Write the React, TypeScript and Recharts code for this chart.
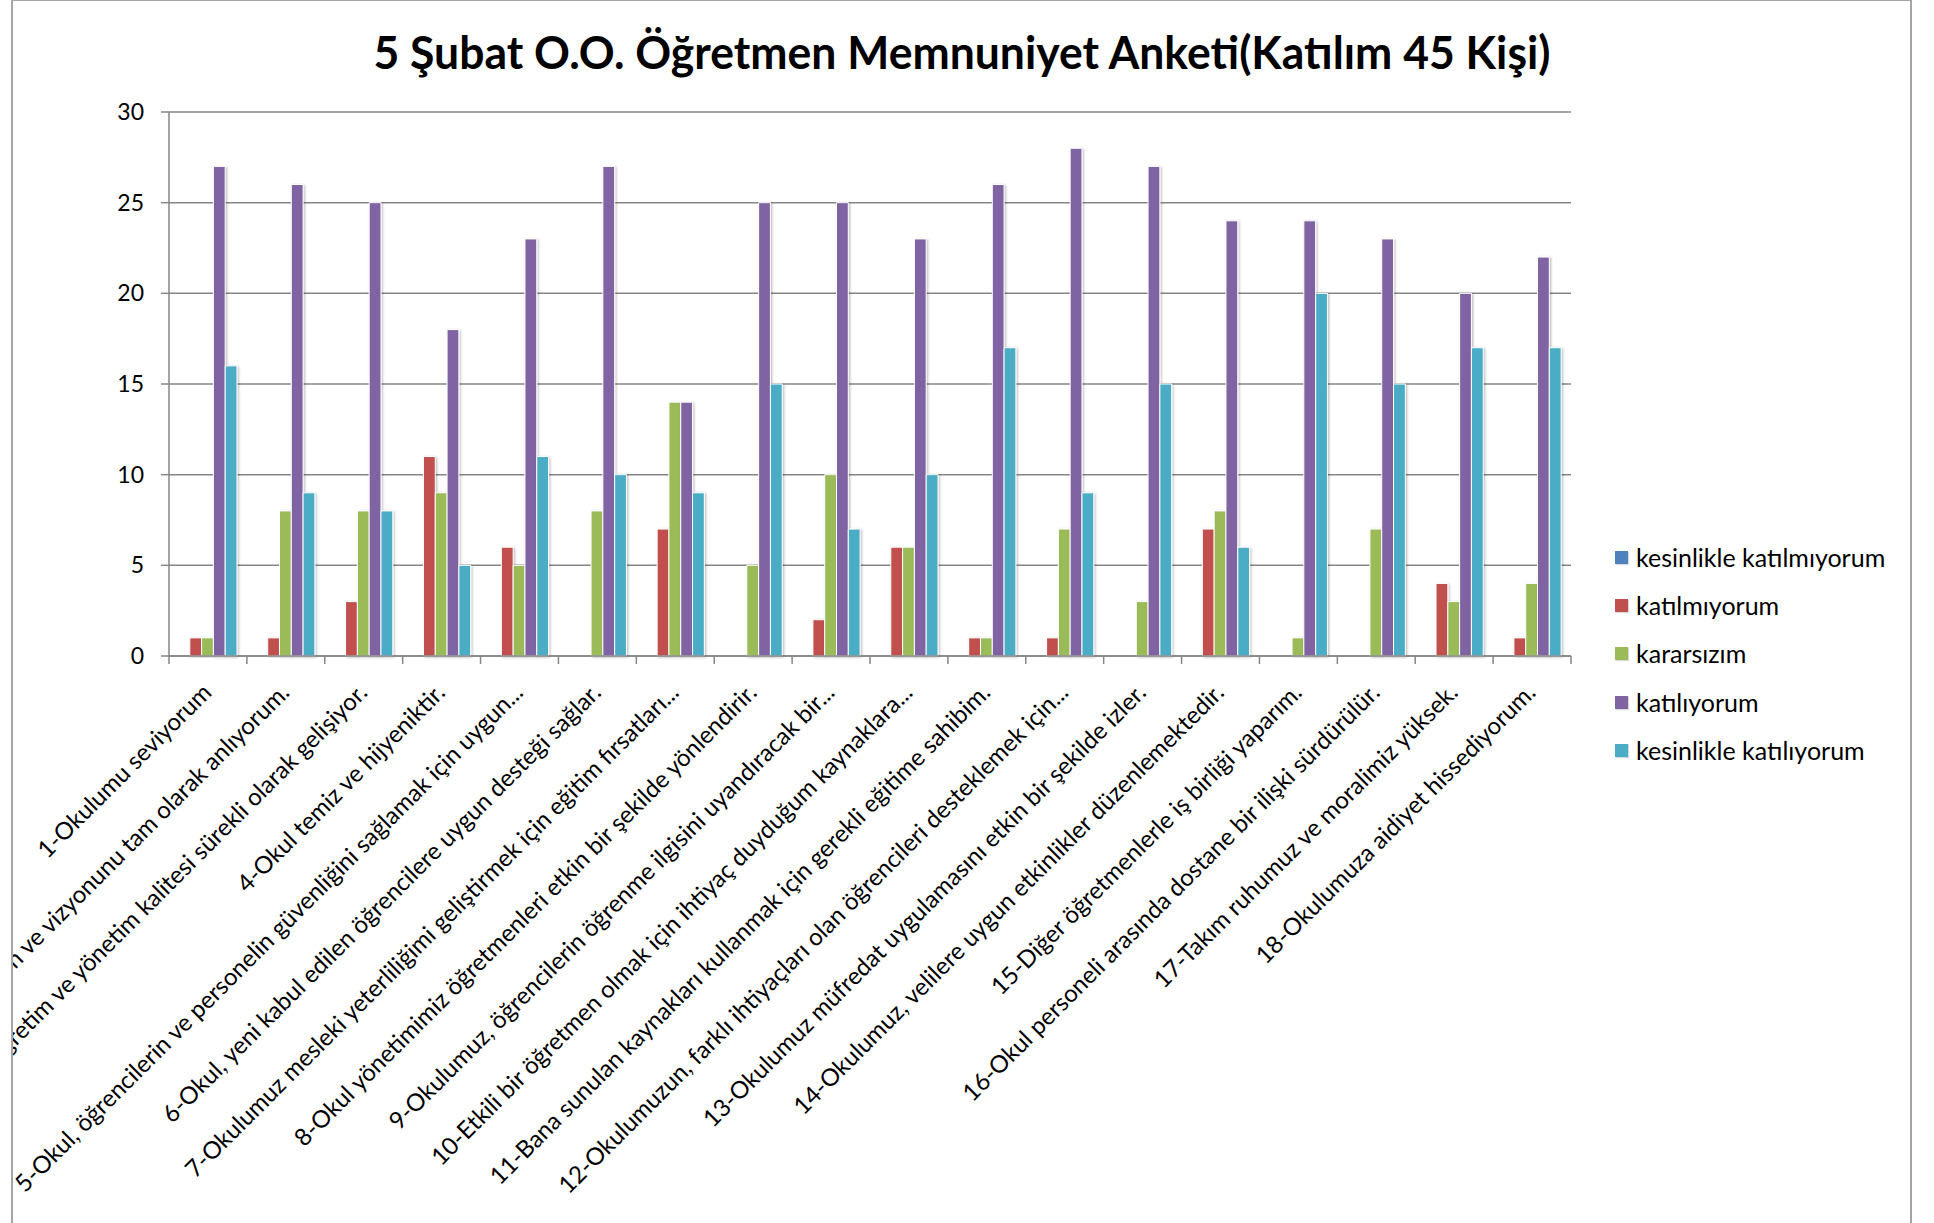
import React from 'react';
import { BarChart, Bar, XAxis, YAxis, CartesianGrid, Legend } from 'recharts';

const title = '5 Şubat O.O. Öğretmen Memnuniyet Anketi(Katılım 45 Kişi)';

const categories = [
  '1-Okulumu seviyorum',
  '2-Okulumuzun misyon ve vizyonunu tam olarak anlıyorum.',
  '3-Okulumuzda eğitim öğretim ve yönetim kalitesi sürekli olarak gelişiyor.',
  '4-Okul temiz ve hijyeniktir.',
  '5-Okul, öğrencilerin ve personelin güvenliğini sağlamak için uygun...',
  '6-Okul, yeni kabul edilen öğrencilere uygun desteği sağlar.',
  '7-Okulumuz mesleki yeterliliğimi geliştirmek için eğitim fırsatları...',
  '8-Okul yönetimimiz öğretmenleri etkin bir şekilde yönlendirir.',
  '9-Okulumuz, öğrencilerin öğrenme ilgisini uyandıracak bir...',
  '10-Etkili bir öğretmen olmak için ihtiyaç duyduğum kaynaklara...',
  '11-Bana sunulan kaynakları kullanmak için gerekli eğitime sahibim.',
  '12-Okulumuzun, farklı ihtiyaçları olan öğrencileri desteklemek için...',
  '13-Okulumuz müfredat uygulamasını etkin bir şekilde izler.',
  '14-Okulumuz, velilere uygun etkinlikler düzenlemektedir.',
  '15-Diğer öğretmenlerle iş birliği yaparım.',
  '16-Okul personeli arasında dostane bir ilişki sürdürülür.',
  '17-Takım ruhumuz ve moralimiz yüksek.',
  '18-Okulumuza aidiyet hissediyorum.',
];

const kesinlikleKatilmiyorum = [0, 0, 0, 0, 0, 0, 0, 0, 0, 0, 0, 0, 0, 0, 0, 0, 0, 0];
const katilmiyorum = [1, 1, 3, 11, 6, 0, 7, 0, 2, 6, 1, 1, 0, 7, 0, 0, 4, 1];
const kararsizim = [1, 8, 8, 9, 5, 8, 14, 5, 10, 6, 1, 7, 3, 8, 1, 7, 3, 4];
const katiliyorum = [27, 26, 25, 18, 23, 27, 14, 25, 25, 23, 26, 28, 27, 24, 24, 23, 20, 22];
const kesinlikleKatiliyorum = [16, 9, 8, 5, 11, 10, 9, 15, 7, 10, 17, 9, 15, 6, 20, 15, 17, 17];

const seriesNames = [
  'kesinlikle katılmıyorum',
  'katılmıyorum',
  'kararsızım',
  'katılıyorum',
  'kesinlikle katılıyorum',
];
const seriesColors = ['#4F81BD', '#C0504D', '#9BBB59', '#8064A2', '#4BACC6'];
const yTicks = [0, 5, 10, 15, 20, 25, 30];

const seriesValues = [
  kesinlikleKatilmiyorum,
  katilmiyorum,
  kararsizim,
  katiliyorum,
  kesinlikleKatiliyorum,
];

const data = categories.map((name, i) => {
  const row: Record<string, string | number> = { name };
  seriesValues.forEach((vals, s) => {
    row['s' + s] = vals[i];
  });
  return row;
});

const FONT = 'Lato, "Open Sans", sans-serif';
const GRID = '#868686';

const CHART_W = 1934;
const CHART_H = 1223;
const PLOT_LEFT = 169;
const PLOT_RIGHT = 1571;

const XTick = (props: any) => {
  const { x, y, payload, index } = props;
  const half =
    payload && typeof payload.offset === 'number' && payload.offset > 0
      ? payload.offset
      : (PLOT_RIGHT - PLOT_LEFT) / categories.length / 2;
  const ax = x + 5;
  const ay = y + 38;
  return (
    <g>
      <line x1={x - half} x2={x - half} y1={y} y2={y + 8} stroke={GRID} strokeWidth={1.5} />
      {index === categories.length - 1 && (
        <line x1={x + half} x2={x + half} y1={y} y2={y + 8} stroke={GRID} strokeWidth={1.5} />
      )}
      <text
        x={ax}
        y={ay}
        transform={`rotate(-45, ${ax}, ${ay})`}
        textAnchor="end"
        fill="#000"
        fontSize={24}
        fontFamily={FONT}
      >
        {payload.value}
      </text>
    </g>
  );
};

const LegendContent = (props: any) => {
  const { payload } = props;
  const items = [...(payload || [])].sort(
    (a: any, b: any) => seriesNames.indexOf(a.value) - seriesNames.indexOf(b.value)
  );
  return (
    <div>
      {items.map((p: any) => (
        <div
          key={p.value}
          style={{ display: 'flex', alignItems: 'center', height: 48.3, whiteSpace: 'nowrap' }}
        >
          <span
            style={{
              display: 'inline-block',
              width: 13,
              height: 13,
              background: p.color,
              marginRight: 8,
              boxShadow: '1px 1px 1px rgba(0,0,0,0.15)',
            }}
          />
          <span style={{ fontFamily: FONT, fontSize: 25, color: '#000', lineHeight: '25px' }}>
            {p.value}
          </span>
        </div>
      ))}
    </div>
  );
};

export default function App() {
  return (
    <div
      style={{
        position: 'absolute',
        left: 0,
        top: 0,
        width: CHART_W,
        height: CHART_H,
        overflow: 'hidden',
        background: '#fff',
      }}
    >
      <div
        style={{
          position: 'absolute',
          left: 11,
          top: -1,
          width: 1901,
          height: 1240,
          border: '2px solid #a5a5a5',
          boxSizing: 'border-box',
          overflow: 'hidden',
        }}
      >
        <div style={{ position: 'absolute', left: -13, top: -1 }}>
          <BarChart
            width={CHART_W}
            height={CHART_H}
            data={data}
            margin={{ top: 112, right: CHART_W - PLOT_RIGHT, bottom: 67, left: PLOT_LEFT - 100 }}
            barCategoryGap="12%"
            barGap={0}
            barSize={11.8}
          >
            <defs>
              <filter id="barShadow" x="-50%" y="-10%" width="200%" height="120%">
                <feDropShadow dx="1.2" dy="0.8" stdDeviation="1.1" floodColor="#000" floodOpacity="0.28" />
              </filter>
            </defs>
            <CartesianGrid vertical={false} stroke={GRID} strokeWidth={1.5} />
            <XAxis
              dataKey="name"
              interval={0}
              tickLine={false}
              tickSize={0}
              tickMargin={0}
              height={500}
              axisLine={{ stroke: GRID, strokeWidth: 1.5 }}
              tick={<XTick />}
            />
            <YAxis
              domain={[0, 30]}
              ticks={yTicks}
              interval={0}
              width={100}
              tickSize={8}
              tickMargin={17}
              axisLine={{ stroke: GRID, strokeWidth: 1.5 }}
              tickLine={{ stroke: GRID, strokeWidth: 1.5 }}
              tick={{ fill: '#000', fontSize: 23, fontFamily: FONT }}
            />
            <Legend
              layout="vertical"
              align="center"
              verticalAlign="middle"
              content={<LegendContent />}
              wrapperStyle={{ left: 1615, top: 533, width: 310 }}
            />
            {seriesNames.map((n, s) => (
              <Bar
                key={n}
                dataKey={'s' + s}
                name={n}
                fill={seriesColors[s]}
                stroke="#ffffff"
                strokeWidth={1}
                filter="url(#barShadow)"
                isAnimationActive={false}
              />
            ))}
          </BarChart>
        </div>
        <svg
          width={CHART_W}
          height={120}
          style={{ position: 'absolute', left: -13, top: -1, overflow: 'visible' }}
        >
          <text
            x={962}
            y={69}
            textAnchor="middle"
            fontFamily={FONT}
            fontWeight={700}
            fontSize={46}
            fill="#000"
            textLength={1177}
            lengthAdjust="spacingAndGlyphs"
          >
            {title}
          </text>
        </svg>
      </div>
    </div>
  );
}
